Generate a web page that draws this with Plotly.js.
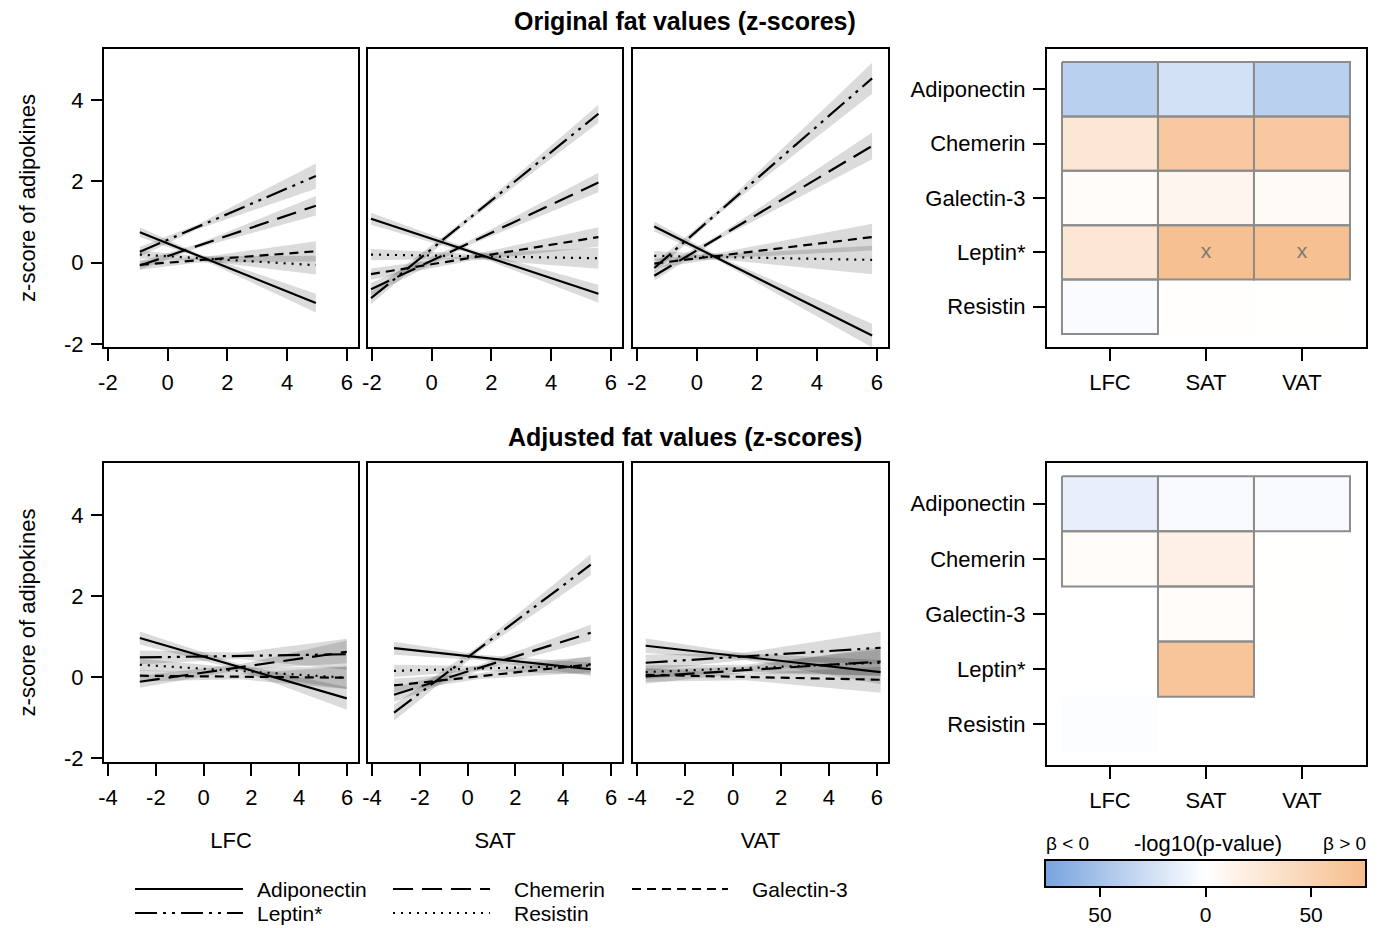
<!DOCTYPE html>
<html>
<head>
<meta charset="utf-8">
<script src="https://cdn.plot.ly/plotly-3.0.1.min.js"></script>
<style>html,body{margin:0;padding:0;background:#fff;}#chart{width:1382px;height:928px;}</style>
</head>
<body>
<div id="chart"></div>
<script>
// ---------------- DATA ----------------
const adipokines = ['Adiponectin', 'Chemerin', 'Galectin-3', 'Leptin*', 'Resistin'];
const depots = ['LFC', 'SAT', 'VAT'];
const xTicksTop = [-2, 0, 2, 4, 6];
const xTickTextTop = ['-2', '0', '2', '4', '6'];
const xTicksBottom = [-4, -2, 0, 2, 4, 6];
const xTickTextBottom = ['-4', '-2', '0', '2', '4', '6'];
const yTicks = [-2, 0, 2, 4];
const yTickText = ['-2', '0', '2', '4'];

// x positions (start, narrowest CI, end) and fitted z-scores per adipokine, CI half-widths
const oLFC_x = [-0.93, 1.0, 4.96];
const oLFC_y = [[0.75, 0.18, -0.99], [-0.07, 0.41, 1.40], [-0.05, 0.06, 0.28], [0.27, 0.88, 2.13], [0.20, 0.11, -0.06]];
const oLFC_ci = [[0.12, 0.05, 0.23], [0.10, 0.05, 0.24], [0.12, 0.06, 0.25], [0.12, 0.06, 0.31], [0.10, 0.05, 0.23]];

const oSAT_x = [-2.03, 1.3, 5.58];
const oSAT_y = [[1.08, 0.28, -0.76], [-0.65, 0.50, 1.97], [-0.28, 0.12, 0.63], [-0.87, 1.11, 3.66], [0.20, 0.16, 0.11]];
const oSAT_ci = [[0.15, 0.06, 0.22], [0.15, 0.06, 0.24], [0.14, 0.07, 0.24], [0.15, 0.06, 0.22], [0.14, 0.06, 0.26]];

const oVAT_x = [-1.42, 0.8, 5.84];
const oVAT_y = [[0.89, 0.07, -1.79], [-0.32, 0.66, 2.87], [-0.02, 0.18, 0.63], [-0.13, 1.30, 4.53], [0.17, 0.14, 0.07]];
const oVAT_ci = [[0.12, 0.06, 0.29], [0.12, 0.06, 0.33], [0.12, 0.07, 0.33], [0.12, 0.06, 0.38], [0.12, 0.06, 0.35]];

const aLFC_x = [-2.67, 1.5, 5.99];
const aLFC_y = [[0.96, 0.24, -0.53], [-0.12, 0.24, 0.62], [0.03, 0.01, -0.02], [0.48, 0.52, 0.56], [0.30, 0.15, -0.02]];
const aLFC_ci = [[0.16, 0.07, 0.28], [0.15, 0.07, 0.28], [0.14, 0.07, 0.28], [0.17, 0.08, 0.38], [0.15, 0.07, 0.28]];

const aSAT_x = [-3.08, 0.5, 5.15];
const aSAT_y = [[0.71, 0.48, 0.19], [-0.44, 0.23, 1.09], [-0.21, 0.02, 0.31], [-0.88, 0.71, 2.77], [0.15, 0.21, 0.28]];
const aSAT_ci = [[0.16, 0.07, 0.16], [0.18, 0.07, 0.20], [0.17, 0.07, 0.20], [0.20, 0.08, 0.26], [0.15, 0.06, 0.22]];

const aVAT_x = [-3.64, 0.5, 6.15];
const aVAT_y = [[0.77, 0.50, 0.12], [0.01, 0.17, 0.38], [0.05, 0.00, -0.07], [0.35, 0.51, 0.72], [0.12, 0.22, 0.35]];
const aVAT_ci = [[0.18, 0.08, 0.30], [0.18, 0.08, 0.35], [0.17, 0.08, 0.32], [0.20, 0.09, 0.40], [0.17, 0.08, 0.33]];

// signed -log10(p) (negative = beta < 0), rows = adipokines, cols = depots
const orig_logp = [[-39, -25, -39], [28, 62, 62], [3, 11, 6], [28, 73, 73], [-3, 1, 0.5]];
const orig_sig = [[1, 1, 1], [1, 1, 1], [1, 1, 1], [1, 1, 1], [1, 0, 0]];
const orig_mark = [[0, 0, 0], [0, 0, 0], [0, 0, 0], [0, 1, 1], [0, 0, 0]];
const adj_logp = [[-13, -4, -4], [4, 17, 0.5], [0, 3, 0.5], [0, 67, 0], [-2, 0, 0]];
const adj_sig = [[1, 1, 1], [1, 1, 0], [0, 1, 0], [0, 1, 0], [0, 0, 0]];
const adj_mark = [[0, 0, 0], [0, 0, 0], [0, 0, 0], [0, 0, 0], [0, 0, 0]];
const cbTickVals = [-50, 0, 50];
const cbTickText = ['50', '0', '50'];

// ---------------- STYLE / LAYOUT ----------------
const W = 1382, H = 928;
const FONT = 'Liberation Sans, Arial, Helvetica, sans-serif';
const FS = 22;
const dashes = ['solid', '20px,9px', '9px,6px', '22px,6px,3px,6px,3px,6px', '2px,6px'];
function dx(a, b) { return [a / W, b / W]; }
function dy(t, b) { return [1 - b / H, 1 - t / H]; }
const colsPx = [[104, 358], [368, 622], [633, 888]];
const rowsPx = [[49, 347], [463, 762]];

const panels = [
  {x: oLFC_x, y: oLFC_y, ci: oLFC_ci}, {x: oSAT_x, y: oSAT_y, ci: oSAT_ci}, {x: oVAT_x, y: oVAT_y, ci: oVAT_ci},
  {x: aLFC_x, y: aLFC_y, ci: aLFC_ci}, {x: aSAT_x, y: aSAT_y, ci: aSAT_ci}, {x: aVAT_x, y: aVAT_y, ci: aVAT_ci}
];

const traces = [];
const layout = {
  width: W, height: H,
  margin: {l: 0, r: 0, t: 0, b: 0, autoexpand: false},
  paper_bgcolor: '#fff', plot_bgcolor: '#fff',
  showlegend: false,
  font: {family: FONT, color: '#000', size: FS},
  annotations: [], shapes: [],
  coloraxis: {
    cmin: -76, cmax: 76,
    colorscale: [[0, '#78a3df'], [0.5, '#ffffff'], [1, '#f6bd8b']],
    colorbar: {
      orientation: 'h', x: 1045 / W, xanchor: 'left', y: 1 - 860 / H, yanchor: 'top',
      len: 321, lenmode: 'pixels', thickness: 27, thicknessmode: 'pixels',
      xpad: 0, ypad: 0, outlinecolor: '#000', outlinewidth: 2,
      tickvals: cbTickVals, ticktext: cbTickText, ticks: 'outside', ticklen: 9, tickwidth: 2, tickcolor: '#000',
      tickfont: {size: 21, color: '#000', family: FONT}
    }
  }
};

const axBase = {
  showline: true, mirror: true, linecolor: '#000', linewidth: 2,
  ticks: 'outside', ticklen: 11, tickwidth: 2, tickcolor: '#000', ticklabelstandoff: 3,
  showgrid: false, zeroline: false, fixedrange: true,
  tickfont: {size: FS, color: '#000', family: FONT}
};

panels.forEach((p, i) => {
  const n = i + 1;
  const row = Math.floor(i / 3), col = i % 3;
  const xa = 'x' + n, ya = 'y' + n;
  const xk = n === 1 ? 'xaxis' : 'xaxis' + n;
  const yk = n === 1 ? 'yaxis' : 'yaxis' + n;
  layout[xk] = Object.assign({}, axBase, {
    domain: dx(colsPx[col][0], colsPx[col][1]), anchor: ya,
    range: row === 0 ? [-2.13, 6.37] : [-4.17, 6.46],
    tickvals: row === 0 ? xTicksTop : xTicksBottom,
    ticktext: row === 0 ? xTickTextTop : xTickTextBottom,
    ticklen: 12
  });
  if (row === 1) {
    layout[xk].title = {text: depots[col], font: {size: FS, family: FONT, color: '#000'}, standoff: 23};
  }
  layout[yk] = Object.assign({}, axBase, {
    domain: dy(rowsPx[row][0], rowsPx[row][1]), anchor: xa,
    range: row === 0 ? [-2.07, 5.25] : [-2.1, 5.28],
    tickvals: yTicks, ticktext: yTickText
  });
  if (col > 0) { layout[yk].showticklabels = false; layout[yk].ticks = ''; }
  else {
    layout[yk].title = {text: 'z-score of adipokines', font: {size: FS, family: FONT, color: '#000'}, standoff: 22};
  }
  // confidence bands
  p.y.forEach((ys, s) => {
    const hi = ys.map((v, k) => v + p.ci[s][k]);
    const lo = ys.map((v, k) => v - p.ci[s][k]);
    traces.push({
      type: 'scatter', mode: 'lines', xaxis: xa, yaxis: ya,
      x: p.x.concat(p.x.slice().reverse()), y: hi.concat(lo.slice().reverse()),
      fill: 'toself', fillcolor: 'rgba(0,0,0,0.14)', line: {width: 0}, hoverinfo: 'skip', name: adipokines[s] + ' CI'
    });
  });
  // fitted lines
  p.y.forEach((ys, s) => {
    traces.push({
      type: 'scatter', mode: 'lines', xaxis: xa, yaxis: ya,
      x: p.x, y: ys, line: {color: '#000', width: 2.2, dash: dashes[s]}, name: adipokines[s]
    });
  });
});

// heatmaps
const heat = [
  {z: orig_logp, sig: orig_sig, mark: orig_mark, rows: [49, 347]},
  {z: adj_logp, sig: adj_sig, mark: adj_mark, rows: [463, 765]}
];
heat.forEach((h, i) => {
  const n = 7 + i;
  const xa = 'x' + n, ya = 'y' + n;
  layout['xaxis' + n] = Object.assign({}, axBase, {
    domain: dx(1047, 1366), anchor: ya, range: [-0.656, 2.667],
    tickvals: [0, 1, 2], ticktext: depots, ticklen: 12, ticklabelstandoff: 3
  });
  layout['yaxis' + n] = Object.assign({}, axBase, {
    domain: dy(h.rows[0], h.rows[1]), anchor: xa, range: [4.74, -0.74],
    tickvals: [0, 1, 2, 3, 4], ticktext: adipokines, ticklen: 12
  });
  traces.push({
    type: 'heatmap', xaxis: xa, yaxis: ya, x: [0, 1, 2], y: [0, 1, 2, 3, 4], z: h.z,
    coloraxis: 'coloraxis', hoverinfo: 'skip', xgap: 0, ygap: 0
  });
  const bx = [], by = [];
  const mx = [], my = [];
  h.sig.forEach((r, ri) => r.forEach((v, ci) => {
    if (v) {
      bx.push(ci - 0.5, ci + 0.5, ci + 0.5, ci - 0.5, ci - 0.5, null);
      by.push(ri - 0.5, ri - 0.5, ri + 0.5, ri + 0.5, ri - 0.5, null);
    }
    if (h.mark[ri][ci]) { mx.push(ci); my.push(ri); }
  }));
  traces.push({
    type: 'scatter', mode: 'lines', xaxis: xa, yaxis: ya, x: bx, y: by,
    line: {color: '#8c8c8c', width: 2}, hoverinfo: 'skip', connectgaps: false
  });
  if (mx.length) {
    traces.push({
      type: 'scatter', mode: 'text', xaxis: xa, yaxis: ya, x: mx, y: my, text: mx.map(() => 'x'),
      textfont: {size: 21, color: '#7a7a7a', family: FONT}, textposition: 'middle center', hoverinfo: 'skip'
    });
  }
});

function ann(text, px, py, size, opts) {
  return Object.assign({text: text, x: px / W, y: 1 - py / H, xref: 'paper', yref: 'paper', showarrow: false,
    xanchor: 'center', yanchor: 'middle', font: {size: size, family: FONT, color: '#000'}}, opts || {});
}
// titles
layout.annotations.push(
  ann('Original fat values (z-scores)', 685, 21, 25, {font: {size: 25, weight: 'bold', family: FONT, color: '#000'}}),
  ann('Adjusted fat values (z-scores)', 685, 437, 25, {font: {size: 25, weight: 'bold', family: FONT, color: '#000'}}),
  ann('-log10(p-value)', 1208, 843, FS),
  ann('β < 0', 1067, 843, 19),
  ann('β > 0', 1344, 843, 19)
);

// legend (drawn manually)
const legendPos = [[135, 243, 256, 889], [393, 490, 513, 889], [632, 728, 751, 889], [135, 243, 256, 913], [393, 490, 513, 913]];
adipokines.forEach((name, s) => {
  const [x0, x1, tx, yy] = legendPos[s];
  layout.shapes.push({type: 'line', xref: 'paper', yref: 'paper', x0: x0 / W, x1: x1 / W, y0: 1 - yy / H, y1: 1 - yy / H,
    line: {color: '#000', width: 2, dash: dashes[s]}});
  layout.annotations.push(ann(name, tx, yy, 21, {xanchor: 'left', borderpad: 0}));
});

Plotly.newPlot('chart', traces, layout, {staticPlot: true, displayModeBar: false});
</script>
</body>
</html>
